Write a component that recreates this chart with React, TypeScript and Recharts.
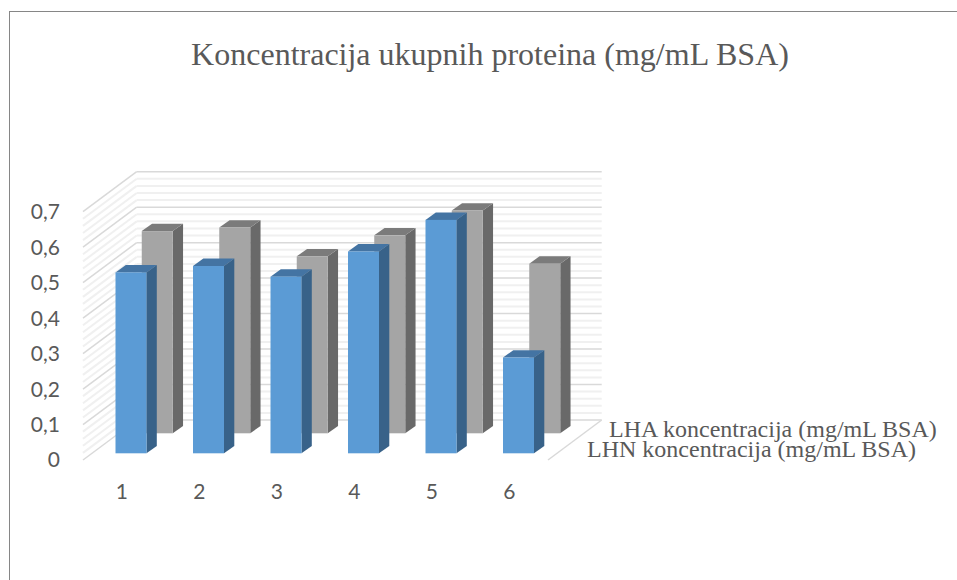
import { Bar, BarChart, ReferenceLine, XAxis, YAxis } from "recharts";

const categories = ["1", "2", "3", "4", "5", "6"];
const lhnValues = [0.51, 0.528, 0.498, 0.569, 0.658, 0.27];
const lhaValues = [0.57, 0.58, 0.499, 0.558, 0.628, 0.478];
const majorTicks = [0, 0.1, 0.2, 0.3, 0.4, 0.5, 0.6, 0.7];
const minorTicks = [
  0.02, 0.04, 0.06, 0.08, 0.12, 0.14, 0.16, 0.18, 0.22, 0.24, 0.26, 0.28, 0.32,
  0.34, 0.36, 0.38, 0.42, 0.44, 0.46, 0.48, 0.52, 0.54, 0.56, 0.58, 0.62, 0.64,
  0.66, 0.68,
];
const lhaName = "LHA koncentracija (mg/mL BSA)";
const lhnName = "LHN koncentracija (mg/mL BSA)";
const title = "Koncentracija ukupnih proteina (mg/mL BSA)";

const chartData = categories.map((name, i) => ({
  name,
  lhn: lhnValues[i],
  lha: lhaValues[i],
}));

// how far the back wall sits from the front plane
const WALL_DX = 53.7;
const WALL_DY = -40;
const SIDE_DX = 10.3;
const SIDE_DY = -7.4;

// 3D look: front face, side and top, moved back by shiftX / shiftY
const box = (front: string, side: string, top: string, shiftX: number, shiftY: number) =>
  (props: any) => {
    const x = props.x + shiftX;
    const y = props.y + shiftY;
    const { width: w, height: h } = props;
    return (
      <g>
        <polygon
          points={`${x + w},${y} ${x + w + SIDE_DX},${y + SIDE_DY} ${x + w + SIDE_DX},${y + h + SIDE_DY} ${x + w},${y + h}`}
          fill={side}
        />
        <polygon
          points={`${x},${y} ${x + SIDE_DX},${y + SIDE_DY} ${x + w + SIDE_DX},${y + SIDE_DY} ${x + w},${y}`}
          fill={top}
        />
        <rect x={x} y={y} width={w} height={h} fill={front} />
      </g>
    );
  };

// one grid value: a diagonal on the side wall and a line on the back wall
const wallLine = (color: string, width: number, withFloor: boolean) => (props: any) => {
  const { x1, x2, y1 } = props;
  return (
    <g fill="none" stroke={color} strokeWidth={width}>
      <line x1={x1} y1={y1} x2={x1 + WALL_DX} y2={y1 + WALL_DY} />
      <line x1={x1 + WALL_DX} y1={y1 + WALL_DY} x2={x2 + WALL_DX} y2={y1 + WALL_DY} />
      {withFloor && <line x1={x2} y1={y1} x2={x2 + WALL_DX} y2={y1 + WALL_DY} />}
    </g>
  );
};

const serif = "'Liberation Serif', serif";
const sans = "Lato, sans-serif";

export default function App() {
  return (
    <div style={{ position: "absolute", left: 0, top: 0, width: 957, height: 580, background: "#fff" }}>
      <div
        style={{
          position: "absolute",
          left: 9,
          top: 11,
          right: 0,
          bottom: 0,
          borderTop: "1px solid #868686",
          borderLeft: "1px solid #868686",
        }}
      />
      <BarChart
        width={957}
        height={580}
        data={chartData}
        margin={{ top: 211.7, right: 409, bottom: 0, left: 23 }}
        barSize={31}
        barGap={-31}
        style={{ position: "absolute", left: 0, top: 0 }}
      >
        <XAxis
          dataKey="name"
          height={120}
          axisLine={false}
          tickLine={false}
          tickMargin={18}
          tick={{ fill: "#595959", fontSize: 21, fontFamily: sans }}
        />
        <YAxis
          width={60}
          domain={[0, 0.7]}
          ticks={majorTicks}
          axisLine={false}
          tickLine={false}
          tickMargin={17}
          tickFormatter={(v: number) => String(v).replace(".", ",")}
          tick={{ fill: "#595959", fontSize: 21, fontFamily: sans }}
        />
        {minorTicks.map((v) => (
          <ReferenceLine key={v} y={v} zIndex={-100} shape={wallLine("#f0f0f0", 2, false)} />
        ))}
        {majorTicks.map((v) => (
          <ReferenceLine key={v} y={v} zIndex={-100} shape={wallLine("#d9d9d9", 1.5, v === 0)} />
        ))}
        <Bar
          dataKey="lha"
          isAnimationActive={false}
          shape={box("#a5a5a5", "#696969", "#7b7b7b", 35.75, -26.7)}
        />
        <Bar
          dataKey="lhn"
          isAnimationActive={false}
          shape={box("#5b9bd5", "#386289", "#4474a3", 9.5, -6.7)}
        />
        <text x={490} y={65} textAnchor="middle" fill="#595959" fontSize={32} fontFamily={serif}>
          {title}
        </text>
        <text x={609} y={436.5} fill="#595959" fontSize={24} fontFamily={serif}>
          {lhaName}
        </text>
        <text x={587} y={456.5} fill="#595959" fontSize={24} fontFamily={serif}>
          {lhnName}
        </text>
      </BarChart>
    </div>
  );
}
